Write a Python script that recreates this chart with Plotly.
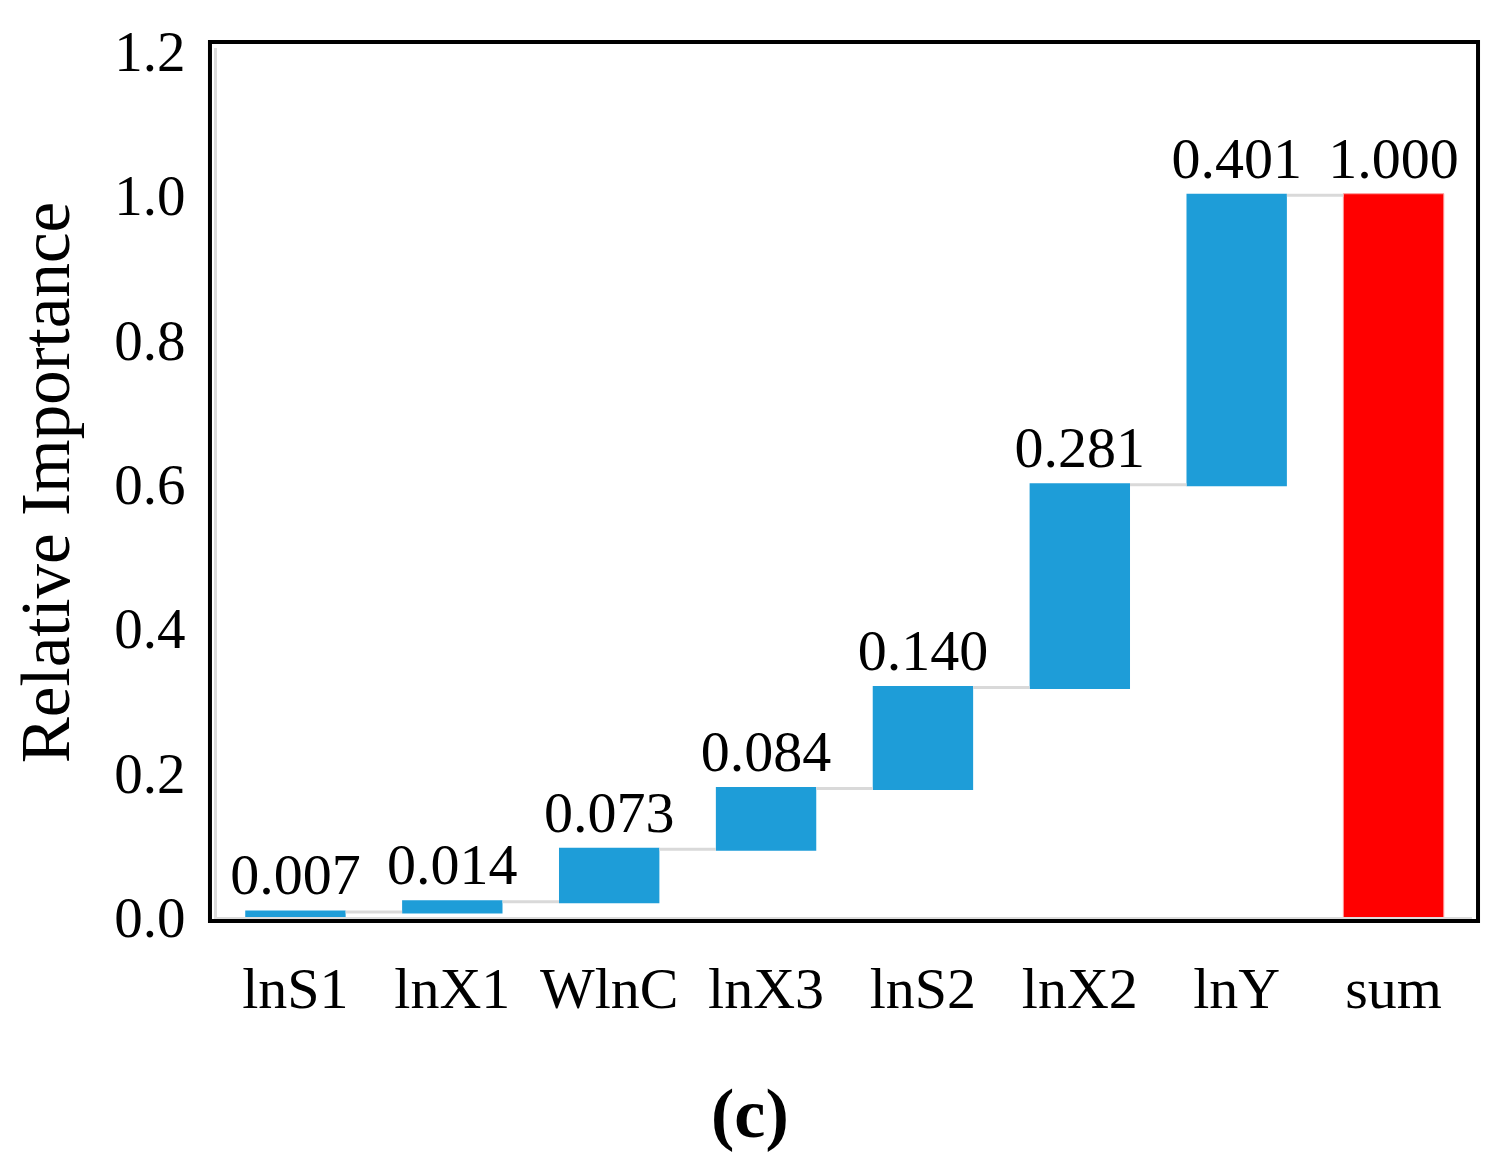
import plotly.graph_objects as go

categories = ["lnS1", "lnX1", "WlnC", "lnX3", "lnS2", "lnX2", "lnY", "sum"]
values = [0.007, 0.014, 0.073, 0.084, 0.140, 0.281, 0.401, 1.000]
measures = ["relative"] * 7 + ["total"]
labels = ["0.007", "0.014", "0.073", "0.084", "0.140", "0.281", "0.401", "1.000"]
y_ticks = [0.0, 0.2, 0.4, 0.6, 0.8, 1.0, 1.2]

FONT = "Liberation Serif, Times New Roman, serif"

fig = go.Figure(go.Waterfall(
    x=categories,
    y=values,
    measure=measures,
    text=labels,
    textposition="outside",
    constraintext="none",
    textfont=dict(family=FONT, size=58, color="black"),
    cliponaxis=False,
    width=0.64,
    increasing=dict(marker=dict(color="#1E9DD8", line=dict(width=0))),
    totals=dict(marker=dict(color="#FF0000", line=dict(color="#FF9999", width=1))),
    connector=dict(line=dict(color="#D9D9D9", width=3), mode="between"),
))

fig.update_layout(
    width=1495, height=1162,
    margin=dict(l=209, r=31, t=40, b=253),
    paper_bgcolor="white", plot_bgcolor="white",
    showlegend=False,
    font=dict(family=FONT, color="black"),
    xaxis=dict(
        range=[-0.5, 7.5],
        showgrid=False, zeroline=False,
        showline=True, linecolor="#DCDCDC", linewidth=3,
        ticks="", ticklabelstandoff=18,
        tickfont=dict(family=FONT, size=58, color="black"),
    ),
    yaxis=dict(
        range=[0, 1.204],
        tickvals=y_ticks, tickformat=".1f",
        showgrid=False, zeroline=False,
        showline=True, linecolor="#DCDCDC", linewidth=3,
        ticks="", ticklabelstandoff=17,
        tickfont=dict(family=FONT, size=57, color="black"),
        title=dict(text="Relative Importance", font=dict(family=FONT, size=69, color="black"), standoff=30),
    ),
    shapes=[dict(
        type="rect", xref="paper", yref="paper",
        x0=-0.0056, x1=1.0048, y0=-0.0046, y1=1.0069,
        line=dict(color="black", width=4), fillcolor="rgba(0,0,0,0)", layer="above",
    )],
    annotations=[dict(
        text="<b>(c)</b>", xref="paper", yref="paper",
        x=(750 - 217) / 1255, y=-(1113 - 917) / 869,
        xanchor="center", yanchor="middle", showarrow=False,
        font=dict(family=FONT, size=70, color="black"),
    )],
)

fig.write_html("out.html")
